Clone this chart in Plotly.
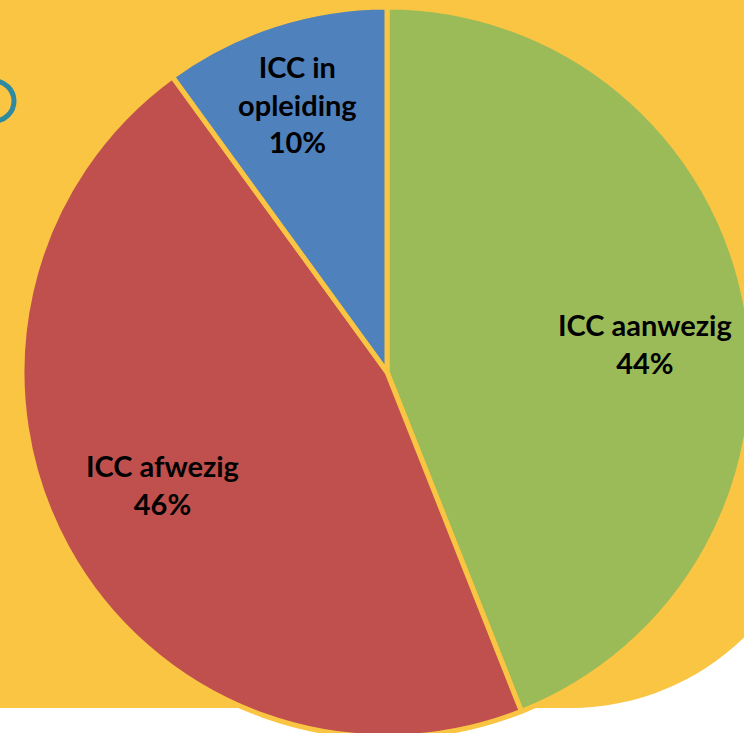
import math
import plotly.graph_objects as go

labels = ["ICC aanwezig", "ICC afwezig", "ICC in<br>opleiding"]
values = [44, 46, 10]
colors = ["#9BBB59", "#C0504D", "#4F81BD"]
label_radius = [0.717, 0.693, 0.78]   # label distance from centre, fraction of radius
label_angle_adj = [4.6, 2.1, -0.4]     # small nudge of label angle (degrees)

W, H = 770, 760          # figure slightly larger than the 744x733 window
BG = "#F9C542"
CX, CY, R = 387, 372, 365  # pie centre / radius in pixels
RL = 362                   # reference radius for label placement

def px(x):
    return x / W

def py(y):
    return 1 - y / H

fig = go.Figure(go.Pie(
    labels=labels,
    values=values,
    sort=False,
    direction="clockwise",
    rotation=0,
    marker=dict(colors=colors, line=dict(color=BG, width=5)),
    textinfo="none",
    domain=dict(x=[px(CX - R), px(CX + R)], y=[py(CY + R), py(CY - R)]),
    showlegend=False,
    hoverinfo="label+percent",
))

# labels placed along each slice's mid-angle (computed from the values)
total = sum(values)
annotations = []
cum = 0
for lab, v, f, adj in zip(labels, values, label_radius, label_angle_adj):
    mid = (cum + v / 2) / total * 2 * math.pi + math.radians(adj)
    cum += v
    lx = CX + f * RL * math.sin(mid)
    ly = CY - f * RL * math.cos(mid)
    pct = round(v / total * 100)
    annotations.append(dict(
        x=px(lx), y=py(ly), xref="paper", yref="paper",
        text=f"{lab}<br>{pct}%", showarrow=False,
        font=dict(family="Lato", size=29, color="black", weight="bold"),
        align="center", xanchor="center", yanchor="middle",
    ))

# yellow rounded background panel (bottom-right corner rounded)
r = 250
k = 0.5523
x_edge = 820
y_bot = 708
cx, cy = x_edge - r, y_bot - r
path = (
    f"M {px(-20)} {py(-20)} L {px(x_edge)} {py(-20)} L {px(x_edge)} {py(cy)} "
    f"C {px(x_edge)} {py(cy + k * r)} {px(cx + k * r)} {py(y_bot)} {px(cx)} {py(y_bot)} "
    f"L {px(-20)} {py(y_bot)} Z"
)
shapes = [
    dict(type="path", xref="paper", yref="paper", path=path,
         fillcolor=BG, line=dict(width=0), layer="below"),
    dict(type="circle", xref="paper", yref="paper",
         x0=px(-26), x1=px(14), y0=py(81), y1=py(121),
         line=dict(color="#2E8AA0", width=5), fillcolor="rgba(0,0,0,0)", layer="below"),
]

fig.update_layout(
    width=W, height=H,
    margin=dict(l=0, r=0, t=0, b=0),
    paper_bgcolor="white",
    plot_bgcolor="white",
    shapes=shapes,
    annotations=annotations,
)

fig.write_html(
    "out.html",
    config={"displayModeBar": False},
    post_script="document.body.style.margin='0';document.body.style.overflow='hidden';",
)
